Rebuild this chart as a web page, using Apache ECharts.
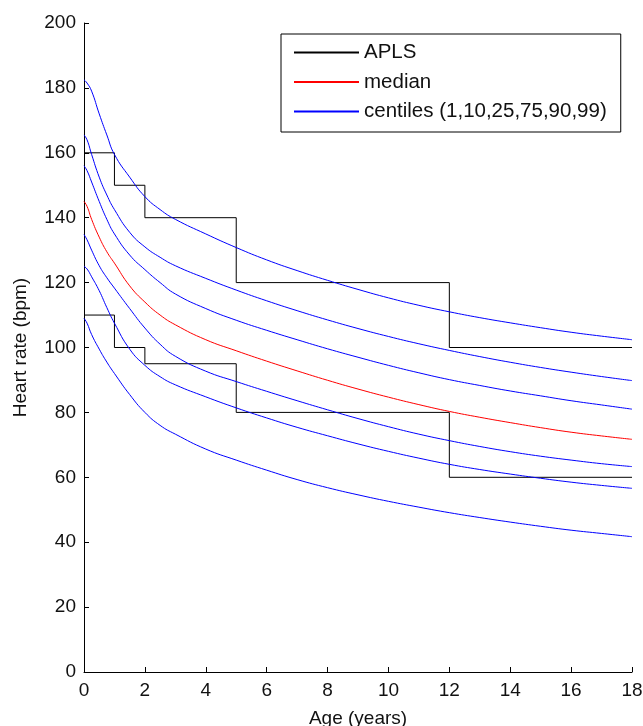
<!DOCTYPE html>
<html><head><meta charset="utf-8">
<script src="https://cdn.jsdelivr.net/npm/echarts@6/dist/echarts.min.js"></script>
<style>html,body{margin:0;padding:0;background:#fff}#c{width:643px;height:726px}</style>
</head><body><div id="c"></div>
<script>
// Ages (years) at which centile curves are sampled
const ages = [0, 0.1, 0.25, 0.5, 0.75, 1, 1.5, 2, 2.5, 3, 4, 5, 6, 7, 8, 9, 10, 11, 12, 13, 14, 15, 16, 17, 18];
// Centile curves (bpm)
const p1  = [109, 107.5, 104, 99.5, 95.5, 92, 85.5, 80, 76, 73.3, 68.7, 65.3, 62.2, 59.3, 56.8, 54.6, 52.6, 50.8, 49.1, 47.6, 46.2, 44.9, 43.7, 42.7, 41.7];
const p10 = [125, 124.2, 121.8, 117.5, 112.3, 107.5, 99.5, 94.5, 91, 88.5, 84.8, 81.4, 78.3, 75.4, 72.8, 70.3, 68.0, 65.9, 64.0, 62.4, 61.0, 59.7, 58.5, 57.5, 56.6];
const p25 = [134.8, 133.2, 130, 125.2, 121.5, 118.3, 112, 106, 101, 97.3, 92.7, 89.5, 86.5, 83.6, 80.8, 78.1, 75.6, 73.3, 71.3, 69.5, 67.9, 66.5, 65.3, 64.2, 63.3];
const p50 = [145, 143.5, 139.5, 134, 129.5, 126, 119, 114, 110, 107, 102.4, 99.0, 95.8, 92.8, 89.9, 87.2, 84.7, 82.4, 80.3, 78.5, 76.85, 75.3, 73.9, 72.75, 71.7];
const p75 = [156, 154.5, 151, 145, 139.5, 135, 128.5, 124, 120, 116.5, 112, 108.4, 105.3, 102.4, 99.6, 97, 94.5, 92.2, 90.1, 88.3, 86.6, 85.1, 83.6, 82.3, 81];
const p90 = [165.5, 164, 159.5, 152.5, 147, 142.5, 135.5, 131, 127.8, 125.2, 121.3, 117.7, 114.4, 111.35, 108.5, 105.85, 103.4, 101.15, 99.1, 97.2, 95.45, 93.85, 92.4, 91.05, 89.8];
const p99 = [182.5, 181.5, 179, 172, 165.5, 159.5, 152.5, 146.5, 142.5, 139.5, 135, 130.8, 127, 123.7, 120.7, 117.9, 115.3, 113, 111, 109.2, 107.6, 106.1, 104.7, 103.5, 102.4];
// APLS reference ranges (step functions)
const aplsAges  = [0, 1, 2, 5, 12, 18];
const aplsUpper = [160, 150, 140, 120, 100, 100];
const aplsLower = [110, 100, 95, 80, 60, 60];
// Axis ticks
const xTicks = [0, 2, 4, 6, 8, 10, 12, 14, 16, 18];
const yTicks = [0, 20, 40, 60, 80, 100, 120, 140, 160, 180, 200];

const CENT = 'centiles (1,10,25,75,90,99)';
const FONT = '"Liberation Sans", Arial, sans-serif';
const BLUE = '#0000ff', RED = '#ff0000', BLACK = '#000000';
const zip = (xs, ys) => xs.map((x, i) => [x, ys[i]]);

const chart = echarts.init(document.getElementById('c'), null, {renderer: 'canvas'});

function curve(name, vals, color) {
  return {
    name: name, type: 'line', data: zip(ages, vals),
    symbol: 'none', showSymbol: false, smooth: 0.5,
    color: color,
    lineStyle: {color: color, width: 1}, itemStyle: {color: color},
    animation: false, z: 3
  };
}
function step(name, vals) {
  return {
    name: name, type: 'line', step: 'end', data: zip(aplsAges, vals),
    symbol: 'none', showSymbol: false, color: BLACK,
    lineStyle: {color: BLACK, width: 1}, itemStyle: {color: BLACK},
    animation: false, z: 2
  };
}

chart.setOption({
  backgroundColor: '#fff',
  animation: false,
  textStyle: {fontFamily: FONT},
  grid: {left: 84, right: 11, top: 23, bottom: 54, containLabel: false, outerBoundsMode: 'none'},
  legend: {
    orient: 'vertical', left: 281, top: 34,
    padding: [8, 14, 10, 12],
    itemWidth: 65, itemHeight: 14, itemGap: 8.5,
    itemStyle: {opacity: 0},
    backgroundColor: '#fff', borderColor: '#000', borderWidth: 1,
    textStyle: {fontSize: 20.5, color: '#111', fontFamily: FONT},
    data: ['APLS', 'median', CENT],
    selectedMode: false
  },
  xAxis: {
    type: 'value', min: xTicks[0], max: xTicks[xTicks.length - 1], interval: 2,
    name: 'Age (years)', nameLocation: 'middle', nameGap: 37,
    nameTextStyle: {fontSize: 19, color: '#111', fontFamily: FONT},
    axisLine: {show: true, onZero: false, lineStyle: {color: '#000', width: 1}},
    axisTick: {show: true, inside: true, length: 5, lineStyle: {color: '#000'}},
    axisLabel: {fontSize: 19, color: '#111', margin: 9, fontFamily: FONT},
    splitLine: {show: false}
  },
  yAxis: {
    type: 'value', min: yTicks[0], max: yTicks[yTicks.length - 1], interval: 20,
    name: 'Heart rate (bpm)', nameLocation: 'middle', nameGap: 54,
    nameTextStyle: {fontSize: 19, color: '#111', fontFamily: FONT},
    axisLine: {show: true, onZero: false, lineStyle: {color: '#000', width: 1}},
    axisTick: {show: true, inside: true, length: 5, lineStyle: {color: '#000'}},
    axisLabel: {fontSize: 19, color: '#111', margin: 8, fontFamily: FONT},
    splitLine: {show: false}
  },
  series: [
    step('APLS', aplsUpper),
    step('APLS ', aplsLower),
    curve('median', p50, RED),
    curve(CENT, p1, BLUE),
    curve('centile 10', p10, BLUE),
    curve('centile 25', p25, BLUE),
    curve('centile 75', p75, BLUE),
    curve('centile 90', p90, BLUE),
    curve('centile 99', p99, BLUE)
  ]
});
</script>
</body></html>
